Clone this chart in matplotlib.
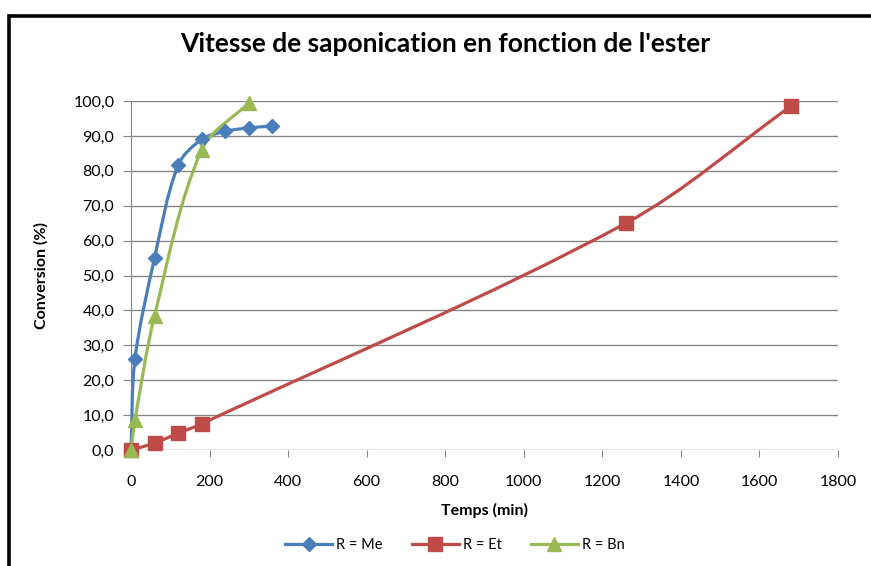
import matplotlib
matplotlib.use("Agg")
import matplotlib.pyplot as plt
from matplotlib.path import Path
from matplotlib.patches import PathPatch
from matplotlib.lines import Line2D
import numpy as np

plt.rcParams['font.family'] = ['Lato', 'DejaVu Sans']

# temps (min) et conversion (%) pour chaque ester
t_me = [0, 10, 60, 120, 180, 240, 300, 360]
conv_me = [0.0, 26.0, 55.0, 81.6, 89.0, 91.3, 92.3, 92.8]

t_et = [0, 60, 120, 180, 1260, 1680]
conv_et = [0.0, 2.0, 4.8, 7.5, 65.0, 98.5]

t_bn = [0, 10, 60, 180, 300]
conv_bn = [0.0, 8.5, 38.5, 86.0, 99.5]

labels = ['R = Me', 'R = Et', 'R = Bn']
colors = ['#4A7EBB', '#BE4B48', '#98B954']
markers = ['D', 's', '^']
msizes = [7.5, 10, 10]

y_ticks = np.arange(0, 101, 10)
x_ticks = np.arange(0, 1801, 200)

# echelle approximative en pixels, pour que le lissage se fasse a l'ecran
SX = 707 / 1800
SY = 349 / 100


def smooth_path(x, y, k=1 / 3):
    # courbe de Bezier passant par tous les points (lissage facon tableur)
    pts = np.column_stack([np.asarray(x) * SX, np.asarray(y) * SY]).astype(float)
    n = len(pts)
    c_out = []
    c_in = []
    for i in range(n):
        prev = pts[i - 1] if i > 0 else pts[i]
        nxt = pts[i + 1] if i < n - 1 else pts[i]
        lp = np.linalg.norm(pts[i] - prev)
        ln = np.linalg.norm(nxt - pts[i])
        d = nxt - prev
        tot = lp + ln if lp + ln > 0 else 1.0
        c_out.append(pts[i] + d * ln / tot * k)
        c_in.append(pts[i] - d * lp / tot * k)
    verts = [pts[0]]
    codes = [Path.MOVETO]
    for i in range(n - 1):
        verts += [c_out[i], c_in[i + 1], pts[i + 1]]
        codes += [Path.CURVE4] * 3
    verts = np.array(verts) / [SX, SY]
    return Path(verts, codes)


fig = plt.figure(figsize=(8.71, 5.66), dpi=100)
ax = fig.add_axes([131 / 871, 1 - 450 / 566, (838 - 131) / 871, (450 - 101) / 566])

series = [(t_me, conv_me), (t_et, conv_et), (t_bn, conv_bn)]
for (t, c), col, m, ms in zip(series, colors, markers, msizes):
    ax.add_patch(PathPatch(smooth_path(t, c), facecolor='none', edgecolor=col,
                           lw=2.3, zorder=3, clip_on=False))
    ax.plot(t, c, linestyle='none', marker=m, ms=ms, color=col,
            markeredgecolor=col, zorder=4, clip_on=False)

ax.set_xlim(0, 1800)
ax.set_ylim(0, 100)
ax.set_yticks(y_ticks)
ax.set_yticklabels([f"{v:.1f}".replace('.', ',') for v in y_ticks])
ax.set_xticks(x_ticks)
ax.set_xticklabels([str(v) for v in x_ticks])
ax.yaxis.grid(True, color='#868686', lw=1)
ax.set_axisbelow(True)
for s in ['top', 'right', 'bottom']:
    ax.spines[s].set_visible(False)
ax.spines['left'].set_color('#868686')
ax.tick_params(axis='y', length=6, color='#868686', labelsize=11.5, pad=6)
ax.tick_params(axis='x', length=5, color='#868686', labelsize=11.5, pad=13,
               direction='out')
ax.set_xlabel('Temps (min)', fontsize=11.5, fontweight='bold', labelpad=10)
ax.set_ylabel('Conversion (%)', fontsize=11.5, fontweight='bold', labelpad=18)

fig.text(445 / 871, 1 - 44 / 566, "Vitesse de saponication en fonction de l'ester",
         ha='center', va='center', fontsize=19, fontweight='bold')

handles = [Line2D([], [], color=col, lw=2.3, marker=m, ms=ms * 0.95)
           for col, m, ms in zip(colors, markers, msizes)]
fig.legend(handles, labels, loc='center', bbox_to_anchor=(455 / 871, 1 - 545 / 566),
           ncol=3, frameon=False, fontsize=10.5, handlelength=3.2,
           columnspacing=2.0, handletextpad=0.3)

# cadre noir du graphique (bord gauche et bord haut)
x_frame = 9 / 871
y_frame = 1 - 16 / 566
fig.add_artist(Line2D([x_frame, x_frame], [-0.05, y_frame], transform=fig.transFigure,
                      color='black', lw=2.6, solid_capstyle='projecting'))
fig.add_artist(Line2D([x_frame, 1.05], [y_frame, y_frame], transform=fig.transFigure,
                      color='black', lw=2.6, solid_capstyle='butt'))

fig.savefig('out.png', dpi=100)
